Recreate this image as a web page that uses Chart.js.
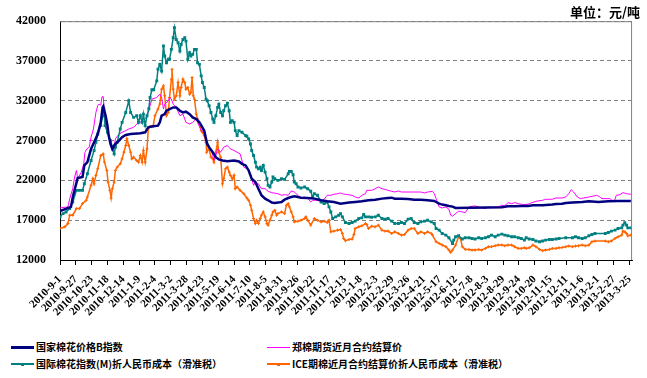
<!DOCTYPE html>
<html>
<head>
<meta charset="utf-8">
<script src="https://cdn.jsdelivr.net/npm/chart.js@4.4.0/dist/chart.umd.min.js"></script>
<style>
body { margin: 0; background: #fff; width: 647px; height: 378px; overflow: hidden; position: relative; font-family: "Noto Sans CJK SC", sans-serif; }
#wrap { position: absolute; left: 0; top: 0; width: 647px; height: 330px; }
#unit { position: absolute; right: 7px; top: 4px; font-size: 13px; font-weight: bold; line-height: 16px; }
.leg { position: absolute; height: 12px; font-size: 10px; font-weight: bold; line-height: 12px; white-space: nowrap; }
.leg .ln { position: absolute; left: 0; width: 23px; }
.leg .mk { position: absolute; left: 10px; width: 3px; height: 3px; }
.leg span { position: absolute; left: 25px; top: 0; }
</style>
</head>
<body>
<div id="wrap"><canvas id="chart"></canvas></div>
<div id="unit">单位：元/吨</div>
<div id="legend"></div>
<script>
// x tick labels (26 day steps from 2010-9-1)
const tickLabels = ['2010-9-1','2010-9-27','2010-10-23','2010-11-18','2010-12-14','2011-1-9','2011-2-4','2011-3-2','2011-3-28','2011-4-23','2011-5-19','2011-6-14','2011-7-10','2011-8-5','2011-8-31','2011-9-26','2011-10-22','2011-11-17','2011-12-13','2012-1-8','2012-2-3','2012-2-29','2012-3-26','2012-4-21','2012-5-17','2012-6-12','2012-7-8','2012-8-3','2012-8-29','2012-9-24','2012-10-20','2012-11-15','2012-12-11','2013-1-6','2013-2-1','2013-2-27','2013-3-25'];

const seriesNames = ['国家棉花价格B指数', '郑棉期货近月合约结算价', '国际棉花指数(M)折人民币成本（滑准税）', 'ICE期棉近月合约结算价折人民币成本（滑准税）'];
const seriesColors = ['#000080', '#ff00ff', '#008080', '#ff6600'];

// days counted from 2010-9-1
const bIndexDays = [0,18,21,29,37,40,45,51,56,62,
  67,70,71,75,78,80,83,86,89,91,
  97,102,108,116,132,140,145,153,161,164,
  167,172,175,180,186,191,197,202,207,213,
  218,224,229,234,237,240,242,245,251,256,
  261,267,275,286,294,299,305,310,315,321,
  326,331,337,342,348,353,358,364,369,375,
  380,385,391,396,407,418,429,439,450,461,
  475,485,496,507,518,529,539,545,550,561,
  572,582,593,604,615,618,623,628,634,639,
  645,650,726,736,747,758,769,777,793,809,
  815,825,831,842,858,869,885,901,917,938];
const bIndexValues = [18130,18670,19920,22290,22420,23880,24290,25960,26790,27830,
  29290,31170,31290,30130,28880,27630,26580,25960,26380,26580,
  27000,27420,27710,27830,27920,28040,28670,28790,28880,29290,
  30130,30330,30750,30960,31170,31170,30750,30540,30630,30330,
  29920,29710,29290,28670,28250,27210,26580,26170,25540,24920,
  24630,24500,24420,24500,24380,24080,23880,23250,22210,21790,
  20960,20130,19710,19500,19210,19170,19210,19290,19580,19790,
  19920,20000,19920,19830,19790,19710,19500,19380,19290,19080,
  19210,19290,19380,19500,19580,19710,19790,19830,19710,19710,
  19670,19580,19580,19500,19420,19290,19080,18960,18880,18790,
  18710,18540,18630,18750,18750,18790,18790,18880,18880,18960,
  19040,19080,19170,19210,19290,19380,19290,19380,19420,19420];

const zceDays = [0,13,16,21,24,27,29,35,39,41,
  44,48,51,55,59,62,64,67,69,71,
  73,75,78,80,83,86,89,91,97,102,
  108,113,121,129,137,143,148,151,159,164,
  167,170,172,178,180,183,186,191,197,202,
  207,213,218,224,226,232,237,240,242,248,
  251,253,256,259,264,269,275,280,286,291,
  296,302,307,310,315,318,321,326,329,331,
  337,342,348,358,364,369,375,380,385,391,
  394,402,407,412,415,421,429,434,439,445,
  450,456,461,464,469,480,485,491,496,502,
  504,512,518,523,529,534,539,545,550,556,
  561,582,593,599,604,612,615,618,620,623,
  628,634,639,642,645,650,655,661,666,672,
  677,682,688,693,699,704,709,715,720,726,
  731,736,742,747,753,758,763,769,771,782,
  793,798,809,815,825,831,836,840,844,850,
  855,860,869,877,882,887,890,904,909,912,
  914,920,925,931,938];
const zceValues = [18540,18670,19710,20960,22420,23250,22210,23040,24080,25540,
  25960,26170,27420,28460,30540,31380,31580,31460,32500,32540,
  30540,28880,28250,27630,26380,25750,26170,27210,27830,28040,
  28250,28460,28670,29290,29380,30130,31380,32210,32420,32830,
  32420,30960,31580,32000,32420,32210,31580,31170,30130,30330,
  29290,29080,29290,29710,29290,28250,28040,27000,26380,25960,
  25130,24500,25130,25960,25540,26170,26380,25960,25750,25540,
  25330,23670,23460,23250,22210,21380,21790,21580,21170,20960,
  20960,20630,20460,20330,20130,20210,20130,20670,20540,20130,
  19790,19920,19790,19290,19500,19500,19380,19630,20130,20130,
  20250,20330,20420,20330,20250,20130,19920,19790,20130,20330,
  20750,20750,20960,21170,20960,20870,20750,20630,20540,20670,
  20540,20540,20540,20420,20540,20630,20330,19710,19290,18670,
  18540,18670,18380,17630,17500,17830,18130,18040,17960,18670,
  18750,18790,18670,18540,18460,18670,18580,18670,18670,18880,
  18790,19210,19080,19210,19080,19000,18960,19000,19080,19380,
  19500,19630,19630,19790,19790,19920,20330,20830,20540,19920,
  19710,19790,19920,20040,20130,19920,19710,19710,19290,19630,
  20130,20210,20460,20330,20250];

const mIndexDays = [0,5,10,16,21,27,32,37,40,45,
  51,56,59,62,67,70,72,74,78,83,
  89,91,94,99,102,108,113,116,121,126,
  129,132,135,137,140,143,146,148,151,154,
  159,161,164,167,170,172,175,178,180,183,
  186,188,191,194,197,199,202,205,207,210,
  213,215,218,221,224,226,229,232,234,237,
  240,242,245,248,251,253,256,259,261,264,
  267,269,272,275,278,280,283,286,288,291,
  294,299,305,307,310,313,315,318,321,323,
  326,329,331,334,337,340,342,345,348,350,
  353,358,364,369,375,377,380,383,385,388,
  391,396,402,407,412,415,418,423,429,434,
  439,442,445,448,453,458,461,464,469,475,
  480,485,491,496,499,502,507,512,518,523,
  529,534,539,545,550,556,561,566,572,577,
  582,588,593,599,604,610,615,618,623,628,
  634,639,645,647,650,655,661,666,672,677,
  682,688,693,699,704,709,715,720,726,731,
  736,742,747,753,758,763,766,771,777,782,
  788,793,798,804,809,815,820,831,842,847,
  852,858,863,869,874,879,896,901,906,912,
  917,923,925,928,931,933,938];
const mIndexValues = [17420,17830,18040,18460,19290,20750,20750,20750,21580,22830,
  24500,25750,26790,27830,28880,30130,30960,28880,28040,27000,
  25330,26170,26790,28460,29290,30540,32000,30540,29920,30130,
  29290,30130,29290,30330,28880,30130,31000,32420,33380,33380,
  34500,35960,36580,35750,38880,37630,36790,37210,37210,38460,
  39920,41170,39710,39290,38250,39080,39710,39920,39500,37210,
  38040,37630,37830,38460,38460,36790,36580,35130,34290,33670,
  32210,32000,31380,30540,29710,29290,30130,31170,31580,30540,
  30130,30750,31380,31710,30750,29290,29500,29290,28250,27630,
  28250,28040,27630,27540,27210,26580,25750,25130,24290,23670,
  23460,23670,23250,23880,23040,22210,21380,21170,21790,22420,
  22210,22000,22210,22130,22830,23130,23130,22710,21790,21580,
  21170,21040,21170,20960,20630,19920,20330,20130,19290,19080,
  19290,18670,18040,17210,17420,17630,17830,17420,16710,16580,
  16710,16880,17210,17290,17710,17420,17420,17380,17420,17630,
  17210,17130,17210,16880,16580,16580,16710,16580,17130,17210,
  16710,16580,16790,16880,17000,16790,16580,15960,15750,15330,
  15130,14790,14080,14500,14920,15040,14630,14790,14790,14710,
  14630,14790,14710,14790,14920,15130,14920,15130,15250,15130,
  15040,14920,14920,14790,14710,14500,14790,14630,14580,14380,
  14290,14380,14500,14580,14580,14630,14710,14790,14790,14920,
  14790,14710,14790,15040,15210,15330,15330,15460,15630,15750,
  15960,16040,16380,16670,16380,16040,16040];

const iceDays = [0,8,13,16,21,27,32,37,43,45,
  51,54,56,59,62,67,71,73,77,79,
  82,84,86,89,91,94,99,102,105,108,
  110,113,116,118,121,126,129,132,135,137,
  140,143,145,148,153,156,161,164,167,170,
  172,175,178,180,183,184,186,188,191,194,
  197,199,202,205,207,210,213,215,217,219,
  221,224,226,229,232,234,237,240,241,245,
  248,251,253,256,259,261,264,267,269,272,
  275,278,280,283,286,288,291,296,302,307,
  310,313,315,318,321,323,326,329,331,334,
  337,340,342,345,348,350,353,356,358,364,
  369,372,375,377,380,383,385,391,396,402,
  404,407,412,418,423,429,434,439,442,445,
  450,456,461,464,466,469,475,480,483,485,
  491,496,502,504,507,512,518,523,529,534,
  539,545,550,556,561,566,572,577,582,588,
  593,599,604,610,612,618,623,628,634,639,
  642,645,650,655,658,661,666,672,677,682,
  688,693,699,704,709,715,720,726,731,736,
  742,747,753,758,763,766,771,777,782,788,
  793,798,804,809,815,820,825,831,836,842,
  847,852,858,863,869,874,879,896,901,906,
  912,917,923,925,928,931,933,938];
const iceValues = [15960,16170,16580,17630,17630,18460,18460,19080,19500,19920,
  21380,22210,21580,22630,23460,25130,25330,24290,23250,21790,
  20750,19790,20960,21790,23250,23670,24080,24710,25540,26380,
  27210,26380,25540,24710,24920,24500,24290,25130,24290,25750,
  24290,25960,28460,28790,28790,30130,30960,31580,33460,33880,
  32630,30130,30540,32420,34710,35960,33460,32210,32630,34290,
  32630,33670,34710,34290,33460,33670,32830,33040,34920,32630,
  32210,30330,29710,29080,28250,28040,27630,26790,25540,25960,
  24920,24710,24290,25540,26790,25540,24920,21580,22210,23460,
  23670,23040,22630,22210,22630,20960,21170,20750,20330,19790,
  19500,18880,18250,17210,16580,17000,16580,17210,17630,18040,
  17420,16580,16380,17000,17630,18040,18250,17630,17830,18040,
  17830,18880,19080,18670,18040,17420,16790,16880,17000,17210,
  17420,17000,16380,17210,17000,16790,16880,16710,17000,15540,
  15630,15750,15830,15330,14710,14420,14580,14630,15210,15960,
  16170,16290,16580,16460,15960,16250,16170,16380,15750,15630,
  15630,15330,15540,15330,15130,15210,15750,15960,15960,15330,
  15540,15330,15540,15330,15130,14290,14080,13880,13670,13250,
  12960,13250,13880,14920,14710,13670,13330,13330,13250,13250,
  13330,13250,13460,13670,13670,13790,13880,13880,13790,13880,
  13880,13670,13460,13460,13540,13460,13540,13880,13670,13330,
  13170,13250,13330,13460,13460,13540,13580,13670,13750,13670,
  13750,13790,13880,13790,13880,14290,14380,14380,14290,14380,
  14710,14920,15130,15630,15540,15330,15040,15130];

const yMin = 12000, yMax = 42000, yStep = 5000;

const t0 = Date.UTC(2010, 8, 1);
function dayOf(label) {
  const p = label.split('-').map(Number);
  return Math.round((Date.UTC(p[0], p[1] - 1, p[2]) - t0) / 86400000);
}
const tickDays = tickLabels.map(dayOf);

function pts(days, vals) {
  return days.map((d, i) => ({ x: d, y: vals[i] }));
}

// grey frame on top and right of the plot area
const frame = {
  id: 'frame',
  afterDraw(chart) {
    const a = chart.chartArea, ctx = chart.ctx;
    ctx.save();
    ctx.strokeStyle = '#808080';
    ctx.lineWidth = 1;
    ctx.beginPath();
    ctx.moveTo(a.left, a.top + 0.5);
    ctx.lineTo(a.right - 0.5, a.top + 0.5);
    ctx.lineTo(a.right - 0.5, a.bottom);
    ctx.stroke();
    ctx.restore();
  }
};

const tickFont = { family: '"Liberation Serif", "Times New Roman", serif', weight: 'bold' };

new Chart(document.getElementById('chart'), {
  type: 'line',
  data: {
    datasets: [
      { label: seriesNames[0], data: pts(bIndexDays, bIndexValues), borderColor: seriesColors[0], borderWidth: 2.5, pointRadius: 0, order: 1 },
      { label: seriesNames[1], data: pts(zceDays, zceValues), borderColor: seriesColors[1], borderWidth: 1, pointRadius: 0, order: 3 },
      { label: seriesNames[2], data: pts(mIndexDays, mIndexValues), borderColor: seriesColors[2], backgroundColor: seriesColors[2], borderWidth: 1.5, pointRadius: 1, pointStyle: 'rect', order: 2 },
      { label: seriesNames[3], data: pts(iceDays, iceValues), borderColor: seriesColors[3], backgroundColor: seriesColors[3], borderWidth: 1.5, pointRadius: 1.5, pointStyle: 'cross', pointBorderWidth: 1, order: 4 }
    ]
  },
  options: {
    responsive: true,
    maintainAspectRatio: false,
    animation: false,
    layout: { padding: { top: 20, right: 6, left: 0, bottom: 0 } },
    plugins: { legend: { display: false }, tooltip: { enabled: false } },
    elements: { line: { tension: 0 } },
    scales: {
      x: {
        type: 'linear', min: 0, max: 940,
        afterBuildTicks(s) { s.ticks = tickDays.map(v => ({ value: v })); },
        afterFit(s) { s.height = 70; },
        ticks: {
          autoSkip: false, minRotation: 45, maxRotation: 45, padding: 8, color: '#000',
          font: Object.assign({ size: 11 }, tickFont),
          callback: (v, i) => tickLabels[i]
        },
        grid: { drawOnChartArea: false, tickLength: 5, color: '#000' },
        border: { color: '#000' }
      },
      y: {
        min: yMin, max: yMax,
        afterFit(s) { s.width = 60; },
        ticks: { stepSize: yStep, padding: 14, color: '#000', font: Object.assign({ size: 12 }, tickFont), callback: v => String(v) },
        grid: { color: '#808080', drawTicks: false },
        border: { color: '#000', dash: [4, 3] }
      }
    }
  },
  plugins: [frame]
});

// legend in two columns below the plot
const legendPos = [[11, 341], [267, 341], [11, 358], [267, 358]];
const legend = document.getElementById('legend');
seriesNames.forEach((name, i) => {
  const d = document.createElement('div');
  d.className = 'leg';
  d.style.left = legendPos[i][0] + 'px';
  d.style.top = legendPos[i][1] + 'px';
  const ln = document.createElement('div');
  ln.className = 'ln';
  const w = i === 0 ? 3 : (i === 1 ? 1 : 2);
  ln.style.height = w + 'px';
  ln.style.top = (6 - Math.floor(w / 2)) + 'px';
  ln.style.background = seriesColors[i];
  d.appendChild(ln);
  if (i >= 2) {
    const mk = document.createElement('div');
    mk.className = 'mk';
    mk.style.top = '5px';
    mk.style.background = seriesColors[i];
    d.appendChild(mk);
  }
  const s = document.createElement('span');
  s.textContent = name;
  d.appendChild(s);
  legend.appendChild(d);
});
</script>
</body>
</html>
